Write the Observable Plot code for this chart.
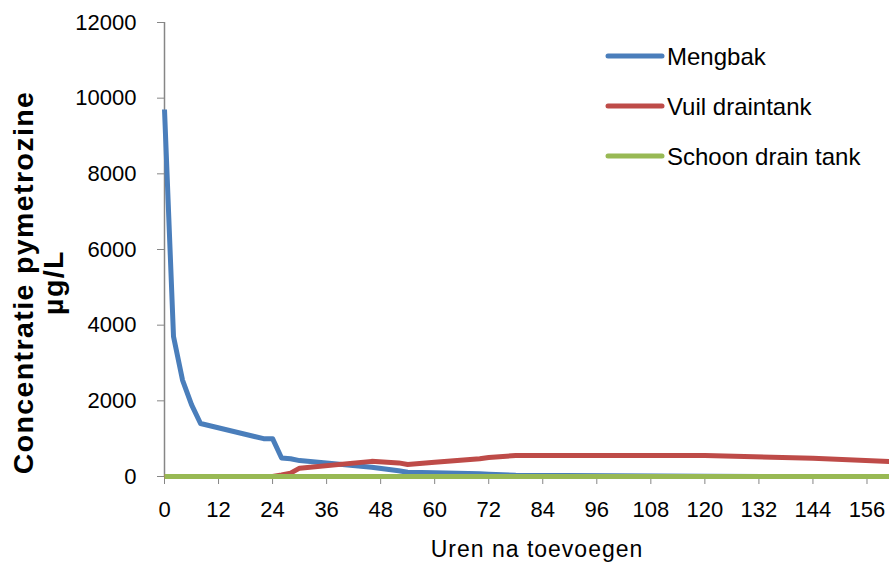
<!DOCTYPE html>
<html><head><meta charset="utf-8">
<script src="https://cdn.jsdelivr.net/npm/d3@7"></script>
<script src="https://cdn.jsdelivr.net/npm/@observablehq/plot@0.6"></script>
<style>
body{margin:0;background:#fff;}
#chart{position:relative;width:889px;height:565px;overflow:hidden;}
</style>
</head><body><div id="chart"></div>
<script>
// Hours after addition
const uren = [0, 2, 4, 6, 8, 22, 24, 26, 28, 30, 46, 52, 54, 60, 70, 72, 78, 120, 144, 161];
// Concentration pymetrozine (µg/L)
const mengbak         = [9700, 3700, 2550, 1900, 1400, 1000, 1000, 490, 470, 420, 245, 150, 110, 100, 70, 60, 30, 5, 0, 0];
const vuilDraintank   = [0, 0, 0, 0, 0, 0, 0, 40, 90, 220, 400, 360, 318, 375, 470, 500, 555, 555, 485, 395];
const schoonDrainTank = [0, 0, 0, 0, 0, 0, 0, 0, 0, 0, 0, 0, 0, 0, 0, 0, 0, 0, 0, 0];

const seriesNames  = ["Mengbak", "Vuil draintank", "Schoon drain tank"];
const seriesValues = [mengbak, vuilDraintank, schoonDrainTank];
const seriesColors = ["#4A7EBB", "#BE4B48", "#98B954"];

const xTicks = [0, 12, 24, 36, 48, 60, 72, 84, 96, 108, 120, 132, 144, 156];
const yTicks = [0, 2000, 4000, 6000, 8000, 10000, 12000];

const xTitle = "Uren na toevoegen";
const yTitle = "Concentratie pymetrozine\nµg/L";

const data = [];
seriesNames.forEach((s, k) => uren.forEach((u, i) => data.push({serie: s, uren: u, waarde: seriesValues[k][i]})));

const font = "'Liberation Sans', Arial, Helvetica, sans-serif";

const plot = Plot.plot({
  width: 889, height: 565,
  marginLeft: 164, marginRight: 0, marginTop: 22, marginBottom: 89,
  style: {fontFamily: font, fontSize: "22px", color: "#000", background: "#fff", overflow: "visible"},
  x: {domain: [0, 161]},
  y: {domain: [0, 12000]},
  color: {domain: seriesNames, range: seriesColors},
  marks: [
    Plot.axisY({ticks: yTicks, tickSize: 7, tickPadding: 21, tickFormat: d => String(d), stroke: "#868686", fill: "#000", fontSize: 22, label: null}),
    Plot.axisX({ticks: xTicks, tickSize: 8, tickPadding: 17, tickFormat: d => String(d), stroke: "#868686", fill: "#000", fontSize: 22, label: null}),
    Plot.ruleX([0], {stroke: "#868686", strokeWidth: 1.5}),
    Plot.ruleY([0], {stroke: "#868686", strokeWidth: 1.5}),
    Plot.line(data, {x: "uren", y: "waarde", z: "serie", stroke: "serie", strokeWidth: 5, strokeLinejoin: "round", strokeLinecap: "butt"}),
    Plot.text([xTitle], {frameAnchor: "bottom", dx: 10, dy: 80, fontSize: 23, fill: "#000"}),
    Plot.text([yTitle], {frameAnchor: "left", textAnchor: "middle", rotate: -90, dx: -126, dy: 33, fontSize: 28.5, fontWeight: "bold", lineHeight: 1.05, fill: "#000"})
  ]
});

const svg = d3.select(plot);
svg.selectAll("text").filter(function() { return this.textContent.startsWith("Concentratie"); })
  .style("letter-spacing", "1.4px").selectAll("tspan").style("letter-spacing", "1.4px");
svg.selectAll("text").filter(function() { return this.textContent === xTitle; })
  .style("letter-spacing", "1px");

// Legend
const lg = svg.append("g").attr("aria-label", "legend").attr("text-anchor", "start");
seriesNames.forEach((s, k) => {
  const y = 56 + k * 50;
  lg.append("line").attr("x1", 608).attr("x2", 662).attr("y1", y).attr("y2", y)
    .attr("stroke", seriesColors[k]).attr("stroke-width", 5).attr("stroke-linecap", "round");
  lg.append("text").attr("x", 667).attr("y", y).attr("dy", "0.36em").attr("text-anchor", "start")
    .attr("font-size", 24).attr("font-family", font).attr("fill", "#000").text(s);
});

document.getElementById("chart").appendChild(plot);
</script>
</body></html>
